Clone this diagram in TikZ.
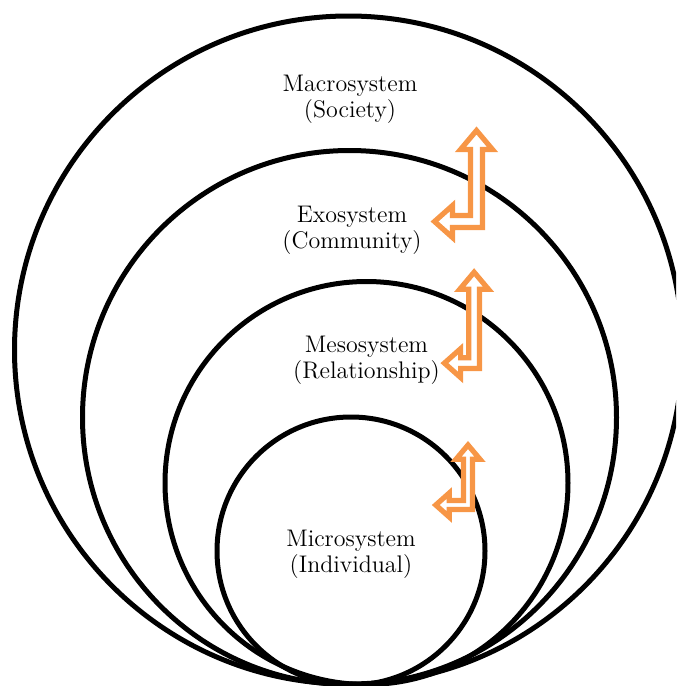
\documentclass[tikz,border=0pt]{standalone}
\usetikzlibrary{positioning}
\definecolor{tangerine}{HTML}{F79646}
\tikzset{ring/.style={draw=black,line width=2.5pt},
  lvl/.style={align=center,font=\fontsize{12}{13}\selectfont,inner sep=0pt},
  bent/.style={draw=tangerine,fill=white,line width=2.6pt,line join=miter}}
% bent double arrow: #1 corner, #2 scale, #3 up length, #4 left length
\newcommand{\bentarrow}[4]{%
  \draw[bent,shift={#1},scale=#2] (0,0) -- (0,-#3) -- (10,-#3) -- ({-6},{-#3-19})
    -- (-22,-#3) -- (-12,-#3) -- (-12,-12) -- (-#4,-12) -- (-#4,-22)
    -- ({-#4-18},-6) -- (-#4,10) -- (-#4,0) -- cycle;}

\begin{document}
\begin{tikzpicture}[x=0.5pt,y=-0.5pt]
\clip (0,0) rectangle (676,686);
\draw[ring] (348.5,350) circle[radius=334];
\draw[ring] (349.5,417.5) circle[radius=267];
\draw[ring] (366.5,483) circle[radius=201.5];
\draw[ring] (351,551) circle[radius=134];
\bentarrow{(482.5,227.5)}{1}{78}{30}
\bentarrow{(479.5,368.5)}{0.9}{88}{21}
\bentarrow{(472.5,509.5)}{0.75}{67}{31}
\node[lvl] (macro) at (350,99) {Macrosystem\\(Society)};
\node[lvl] (exo) at (352,230) {Exosystem\\(Community)};
\node[lvl] (meso) at (366.5,360) {Mesosystem\\(Relationship)};
\node[lvl] (micro) at (351,554) {Microsystem\\(Individual)};
\end{tikzpicture}
\end{document}
